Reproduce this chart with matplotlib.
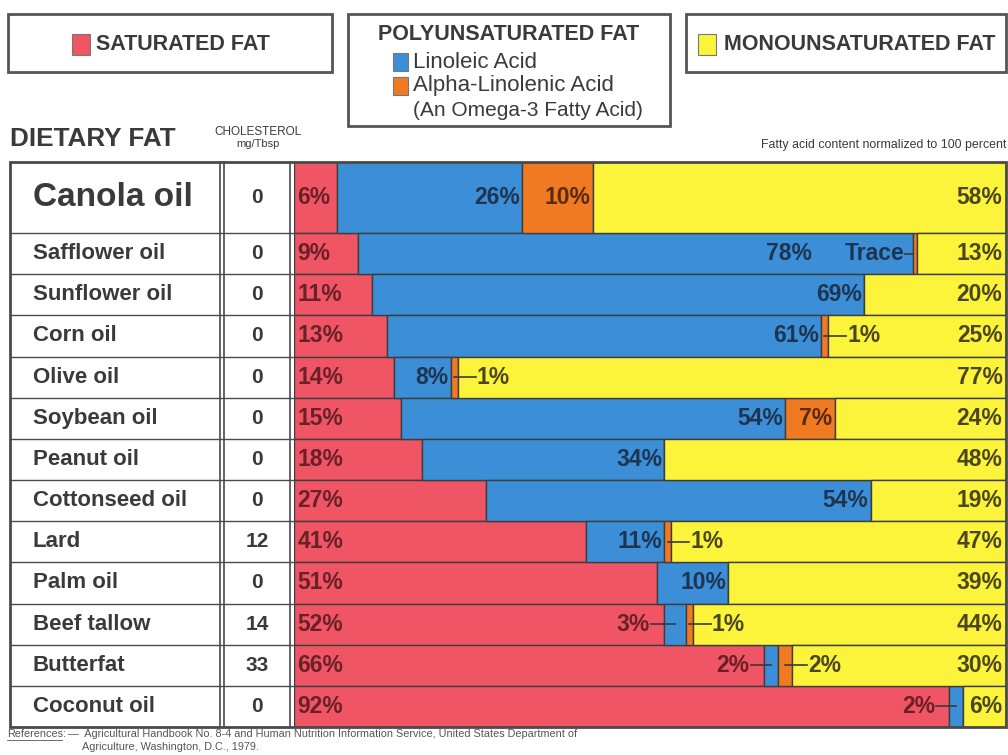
import matplotlib.pyplot as plt
from matplotlib.patches import Rectangle

# data (percent of fatty acids, normalized to 100)
oils = ["Canola oil", "Safflower oil", "Sunflower oil", "Corn oil", "Olive oil",
        "Soybean oil", "Peanut oil", "Cottonseed oil", "Lard", "Palm oil",
        "Beef tallow", "Butterfat", "Coconut oil"]
cholesterol = [0, 0, 0, 0, 0, 0, 0, 0, 12, 0, 14, 33, 0]
saturated = [6, 9, 11, 13, 14, 15, 18, 27, 41, 51, 52, 66, 92]
linoleic = [26, 78, 69, 61, 8, 54, 34, 54, 11, 10, 3, 2, 2]
alpha_linolenic = [10, 0.5, 0, 1, 1, 7, 0, 0, 1, 0, 1, 2, 0]   # 0.5 = "Trace"
monounsaturated = [58, 13, 20, 25, 77, 24, 48, 19, 47, 39, 44, 30, 6]

RED = "#ef5565"
BLUE = "#3c8fd7"
ORANGE = "#f07a22"
YELLOW = "#fcf43a"
TXT = "#3a3a3a"
LINE = "#3d3d3d"
plt.rcParams["font.family"] = ["Liberation Sans", "DejaVu Sans"]

fig = plt.figure(figsize=(10.08, 7.55), dpi=100, facecolor="white")

# table geometry in pixels
table_top, table_bot = 162, 727
bar_left, bar_right = 294, 1006
first_h = 71
row_h = [first_h] + [(table_bot - table_top - first_h) / (len(oils) - 1)] * (len(oils) - 1)
tops = [sum(row_h[:i]) for i in range(len(oils))]
centers = [t + h / 2 for t, h in zip(tops, row_h)]

# bar axes: x in percent, y in pixels from table top
bax = fig.add_axes([bar_left / 1008, (755 - table_bot) / 755,
                    (bar_right - bar_left) / 1008, (table_bot - table_top) / 755])
bax.set_xlim(0, 100)
bax.set_ylim(table_bot - table_top, 0)
bax.axis("off")

kw = dict(edgecolor=LINE, linewidth=1.0, align="center")
left = [0] * len(oils)
for vals, col in [(saturated, RED), (linoleic, BLUE),
                  (alpha_linolenic, ORANGE), (monounsaturated, YELLOW)]:
    bax.barh(centers, vals, left=left, height=row_h, color=col, **kw)
    left = [l + v for l, v in zip(left, vals)]

tc = {"red": "#6a2028", "blue": "#1e3450", "orange": "#5a2a12", "yellow": "#4a461e"}
fs = 16.5
for i in range(len(oils)):
    y = centers[i]
    s, b, a, m = saturated[i], linoleic[i], alpha_linolenic[i], monounsaturated[i]
    tkw = dict(va="center", fontsize=fs, fontweight="bold")
    bax.text(0.5, y, f"{s}%", ha="left", color=tc["red"], **tkw)
    b_end = s + b
    if b >= 4:
        bx = b_end - 0.3
        if 0 < a < 1:
            bx = b_end - 14.2
        bax.text(bx, y, f"{b}%", ha="right", color=tc["blue"], **tkw)
    else:
        bax.plot([s - 1.8, s + b / 2], [y, y], color=TXT, lw=1.2)
        bax.text(s - 2.0, y, f"{b}%", ha="right", color=tc["red"], **tkw)
    if a >= 4:
        bax.text(b_end + a - 0.4, y, f"{a}%", ha="right", color=tc["orange"], **tkw)
    elif a >= 1:
        mid = b_end + a / 2
        bax.plot([mid, mid + 3.0], [y, y], color=TXT, lw=1.2)
        bax.text(mid + 3.2, y, f"{a}%", ha="left", color=tc["yellow"], **tkw)
    elif a > 0:
        bax.plot([b_end - 1.2, b_end], [y, y], color=TXT, lw=1.2)
        bax.text(b_end - 1.3, y, "Trace", ha="right", color=tc["blue"], **tkw)
    bax.text(99.5, y, f"{m}%", ha="right", color=tc["yellow"], **tkw)

# overlay axes in pixel coordinates for the table frame and headings
ax = fig.add_axes([0, 0, 1, 1])
ax.set_xlim(0, 1008)
ax.set_ylim(755, 0)
ax.axis("off")
ax.patch.set_alpha(0)
ax.set_zorder(3)

# header boxes
def box(x0, y0, x1, y1):
    ax.add_patch(Rectangle((x0, y0), x1 - x0, y1 - y0, fill=False,
                           edgecolor="#555555", lw=2.0))

def swatch(x, y, col, size=17):
    ax.add_patch(Rectangle((x, y - size / 2), size * 0.85, size, facecolor=col,
                           edgecolor="#777777", lw=0.8))

box(8, 14, 332, 72)
swatch(72, 44, RED, 21)
ax.text(96, 44, "SATURATED FAT", ha="left", va="center", fontsize=15.5,
        fontweight="bold", color=TXT)

box(348, 14, 670, 126)
ax.text(509, 35, "POLYUNSATURATED FAT", ha="center", va="center", fontsize=15.5,
        fontweight="bold", color=TXT)
swatch(393, 62, BLUE, 18)
ax.text(413, 62, "Linoleic Acid", ha="left", va="center", fontsize=16, color=TXT)
swatch(393, 86, ORANGE, 18)
ax.text(413, 86, "Alpha-Linolenic Acid", ha="left", va="center", fontsize=16, color=TXT)
ax.text(413, 110, "(An Omega-3 Fatty Acid)", ha="left", va="center", fontsize=15, color=TXT)

box(686, 14, 1006, 72)
swatch(698, 44, YELLOW, 21)
ax.text(724, 44, "MONOUNSATURATED FAT", ha="left", va="center", fontsize=15.5,
        fontweight="bold", color=TXT)

ax.text(10, 139, "DIETARY FAT", ha="left", va="center", fontsize=18.8,
        fontweight="bold", color=TXT)
ax.text(258, 132, "CHOLESTEROL", ha="center", va="center", fontsize=8.5, color=TXT)
ax.text(258, 144, "mg/Tbsp", ha="center", va="center", fontsize=8, color=TXT)
ax.text(1006, 145, "Fatty acid content normalized to 100 percent", ha="right",
        va="center", fontsize=8.9, color=TXT)

# table frame
ax.add_patch(Rectangle((10, table_top), bar_right - 10, table_bot - table_top,
                       fill=False, edgecolor="#4a4a4a", lw=2.0))
for x in [220, 224, 290]:
    ax.plot([x, x], [table_top, table_bot], color="#4a4a4a", lw=1.2)
for t in tops[1:]:
    ax.plot([10, bar_left], [table_top + t, table_top + t], color="#4a4a4a", lw=1.0)

for i, name in enumerate(oils):
    y = table_top + centers[i]
    size = 24 if i == 0 else 16
    ax.text(33, y, name, ha="left", va="center", fontsize=size,
            fontweight="bold", color=TXT)
    ax.text(257, y, str(cholesterol[i]), ha="center", va="center", fontsize=15,
            fontweight="bold", color=TXT)

ax.text(7, 734, "References:", ha="left", va="center", fontsize=7.8, color="#555555")
ax.plot([7, 62], [740, 740], color="#555555", lw=0.6)
ax.text(68, 734, "\u2014  Agricultural Handbook No. 8-4 and Human Nutrition Information "
        "Service, United States Department of", ha="left", va="center",
        fontsize=7.8, color="#555555")
ax.text(82, 747, "Agriculture, Washington, D.C., 1979.", ha="left", va="center",
        fontsize=7.8, color="#555555")

plt.savefig("out.png", dpi=100, facecolor="white")
